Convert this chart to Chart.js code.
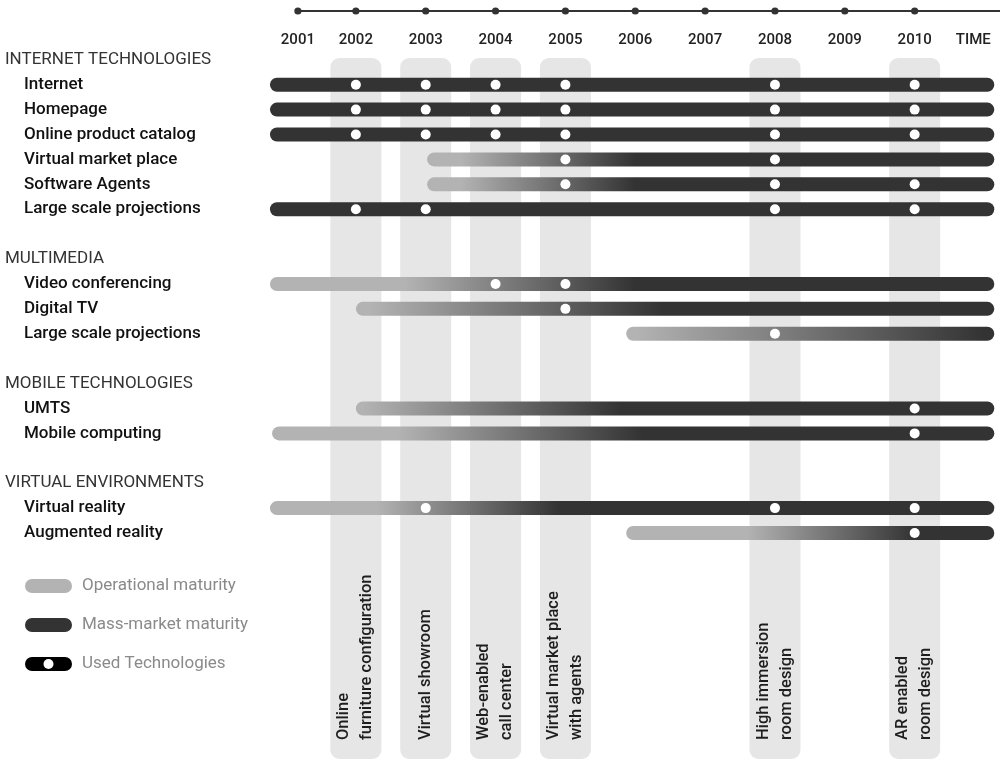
<!DOCTYPE html>
<html><head><meta charset="utf-8">
<script src="https://cdn.jsdelivr.net/npm/chart.js@4.4.1/dist/chart.umd.min.js"></script>
<style>html,body{margin:0;padding:0;background:#fff}#wrap{width:1000px;height:761px;position:relative}</style>
</head><body><div id="wrap"><canvas id="c"></canvas></div>
<script>
// ---- data ----
const axisLabels = ['2001','2002','2003','2004','2005','2006','2007','2008','2009','2010','TIME'];
const axisValues = [2001.17,2002,2003,2004,2005,2006,2007,2008,2009,2010,2010.84];

const groups = ['INTERNET TECHNOLOGIES','MULTIMEDIA','MOBILE TECHNOLOGIES','VIRTUAL ENVIRONMENTS'];
const technologies = ['Internet','Homepage','Online product catalog','Virtual market place','Software Agents','Large scale projections',
  'Video conferencing','Digital TV','Large scale projections','UMTS','Mobile computing','Virtual reality','Augmented reality'];
const techGroup = [0,0,0,0,0,0,1,1,1,2,2,3,3];
const barStart = [2000.77,2000.77,2000.77,2003.02,2003.02,2000.77,2000.77,2002.0,2005.87,2002.0,2000.8,2000.77,2005.87];
const barEnd   = [2011.14,2011.14,2011.14,2011.14,2011.14,2011.14,2011.14,2011.14,2011.14,2011.14,2011.14,2011.14,2011.14];
// operational maturity (light) fades into mass-market maturity (dark) between these years
const fadeFrom = [2000.77,2000.77,2000.77,2003.5,2003.5,2000.77,2002.7,2002.2,2006.0,2002.1,2002.6,2002.3,2007.6];
const fadeTo   = [2000.77,2000.77,2000.77,2006.0,2006.0,2000.77,2006.0,2006.4,2011.0,2005.8,2006.1,2004.9,2010.0];
const usedYears = [
  [2002,2003,2004,2005,2008,2010],
  [2002,2003,2004,2005,2008,2010],
  [2002,2003,2004,2005,2008,2010],
  [2005,2008],
  [2005,2008,2010],
  [2002,2003,2008,2010],
  [2004,2005],
  [2005],
  [2008],
  [2010],
  [2010],
  [2003,2008,2010],
  [2010]
];
const projectNames = [['Online','furniture configuration'],['Virtual showroom'],['Web-enabled','call center'],
  ['Virtual market place','with agents'],['High immersion','room design'],['AR enabled','room design']];
const projectYear = [2002,2003,2004,2005,2008,2010];
const legendLabels = ['Operational maturity','Mass-market maturity','Used Technologies'];

// ---- styles ----
const LIGHT = '#b3b3b3', DARK = '#333333', COLBG = '#e6e6e6';
const FONT = 'Roboto, "Noto Sans", sans-serif';

// ---- build rows ----
const rows = []; const rowKind = []; const techRow = [];
groups.forEach((g, gi) => {
  if (gi > 0) { rows.push(''); rowKind.push('blank'); }
  rows.push(g); rowKind.push('header');
  technologies.forEach((t, ti) => {
    if (techGroup[ti] === gi) { techRow[ti] = rows.length; rows.push(t); rowKind.push('item'); }
  });
});
const barData = rows.map(() => null);
technologies.forEach((t, ti) => { barData[techRow[ti]] = [barStart[ti], barEnd[ti]]; });
const rowTech = rows.map(() => -1);
technologies.forEach((t, ti) => { rowTech[techRow[ti]] = ti; });
// category scale works on row indices internally, so dots are given pre-parsed
const dotData = [];
usedYears.forEach((ys, ti) => ys.forEach(y => dotData.push({x: y, y: techRow[ti]})));

function barColor(ctx) {
  const chart = ctx.chart;
  const ti = rowTech[ctx.dataIndex];
  if (ctx.dataIndex === undefined || ti === undefined || ti < 0 || !chart.chartArea) return DARK;
  if (fadeTo[ti] <= fadeFrom[ti]) return DARK;
  const xs = chart.scales.x;
  const g = chart.ctx.createLinearGradient(xs.getPixelForValue(fadeFrom[ti]), 0, xs.getPixelForValue(fadeTo[ti]), 0);
  g.addColorStop(0, LIGHT); g.addColorStop(1, DARK);
  return g;
}

function rr(ctx, x, y, w, h, r) {
  ctx.beginPath();
  ctx.moveTo(x + r, y); ctx.lineTo(x + w - r, y); ctx.arcTo(x + w, y, x + w, y + r, r);
  ctx.lineTo(x + w, y + h - r); ctx.arcTo(x + w, y + h, x + w - r, y + h, r);
  ctx.lineTo(x + r, y + h); ctx.arcTo(x, y + h, x, y + h - r, r);
  ctx.lineTo(x, y + r); ctx.arcTo(x, y, x + r, y, r); ctx.closePath();
}

const decor = {
  id: 'decor',
  beforeDraw(chart) {
    const c = chart.ctx; c.save(); c.fillStyle = '#fff'; c.fillRect(0, 0, chart.width, chart.height); c.restore();
  },
  beforeDatasetsDraw(chart) {
    const c = chart.ctx, xs = chart.scales.x;
    c.save();
    projectYear.forEach((yr, i) => {
      const cx = xs.getPixelForValue(yr);
      c.fillStyle = COLBG;
      rr(c, cx - 25.5, 58, 51, 759 - 58, 9); c.fill();
      const lines = projectNames[i];
      c.save();
      c.translate(cx, 740); c.rotate(-Math.PI / 2);
      c.fillStyle = '#1e1e1e'; c.font = '500 16.5px ' + FONT;
      c.textAlign = 'left'; c.textBaseline = 'middle';
      lines.forEach((ln, k) => c.fillText(ln, 0, (k - (lines.length - 1) / 2) * 23));
      c.restore();
    });
    c.restore();
  },
  afterDraw(chart) {
    const c = chart.ctx, xs = chart.scales.x, ys = chart.scales.y;
    c.save();
    // top time axis
    c.strokeStyle = DARK; c.lineWidth = 2;
    c.beginPath(); c.moveTo(xs.getPixelForValue(axisValues[0]), 11); c.lineTo(1000, 11); c.stroke();
    c.fillStyle = DARK;
    axisValues.forEach((v, i) => {
      if (axisLabels[i] === 'TIME') return;
      c.beginPath(); c.arc(xs.getPixelForValue(v), 11, 3.6, 0, Math.PI * 2); c.fill();
    });
    c.fillStyle = '#222'; c.font = '500 15px ' + FONT; c.textAlign = 'center'; c.textBaseline = 'middle';
    axisValues.forEach((v, i) => c.fillText(axisLabels[i], xs.getPixelForValue(v), 40));
    // row labels
    c.textAlign = 'left';
    rows.forEach((r, i) => {
      if (!r) return;
      const y = ys.getPixelForValue(i);
      if (rowKind[i] === 'header') { c.fillStyle = '#333'; c.font = '400 17px ' + FONT; c.fillText(r, 5, y); }
      else { c.fillStyle = '#111'; c.font = '500 17px ' + FONT; c.fillText(r, 24, y); }
    });
    // legend
    const ly = [586, 625, 664];
    legendLabels.forEach((lab, i) => {
      c.fillStyle = i === 0 ? LIGHT : (i === 1 ? DARK : '#000');
      rr(c, 25, ly[i] - 7, 47, 14, 7); c.fill();
      if (i === 2) { c.fillStyle = '#fff'; c.beginPath(); c.arc(48.5, ly[i], 5, 0, Math.PI * 2); c.fill(); }
      c.fillStyle = '#8a8a8a'; c.font = '400 17px ' + FONT; c.textAlign = 'left'; c.textBaseline = 'middle';
      c.fillText(lab, 82, ly[i]);
    });
    c.restore();
  }
};

new Chart(document.getElementById('c'), {
  type: 'bar',
  data: {
    labels: rows,
    datasets: [
      { type: 'scatter', label: 'Used Technologies', data: dotData, order: 0, parsing: false,
        pointRadius: 5, pointHoverRadius: 5, backgroundColor: '#fff', borderWidth: 0, clip: false },
      { type: 'bar', label: 'Maturity', data: barData, order: 1,
        backgroundColor: barColor, barThickness: 14, borderRadius: 7, borderSkipped: false,
        inflateAmount: 0, clip: false }
    ]
  },
  plugins: [decor],
  options: {
    indexAxis: 'y',
    responsive: true, maintainAspectRatio: false, animation: false, events: [],
    layout: { padding: { left: 265.07, right: 2.4, top: 47.35, bottom: 215.55 } },
    scales: {
      x: { type: 'linear', min: 2000.7, max: 2011.15, display: false },
      y: { type: 'category', display: false, offset: true }
    },
    plugins: { legend: { display: false }, tooltip: { enabled: false } }
  }
});
</script>
</body></html>
